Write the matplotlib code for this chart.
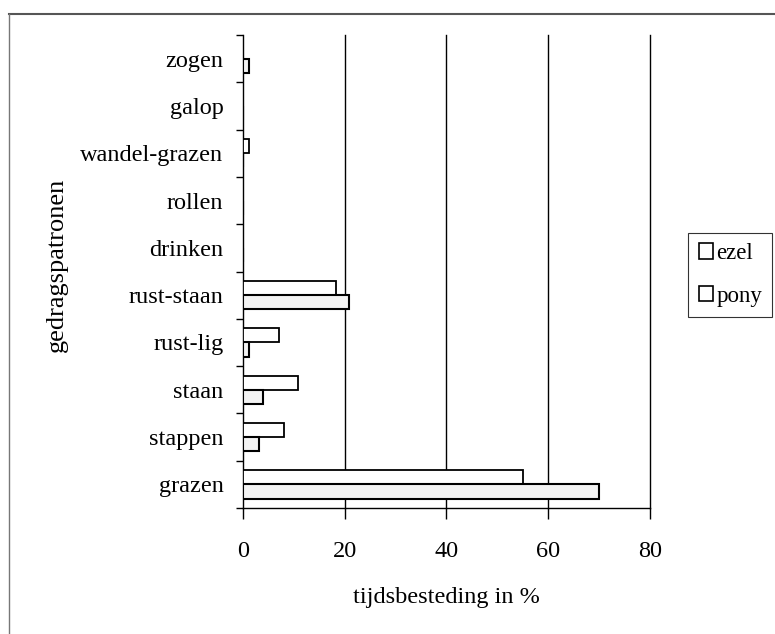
import numpy as np
import matplotlib.pyplot as plt
from matplotlib.lines import Line2D
from matplotlib.patches import Patch

categories = ["grazen", "stappen", "staan", "rust-lig", "rust-staan",
              "drinken", "rollen", "wandel-grazen", "galop", "zogen"]
ezel = [55, 8, 10.8, 7.1, 18.3, 0, 0, 1.1, 0, 0]
pony = [70, 3.1, 3.9, 1.2, 20.8, 0, 0, 0, 0, 1.2]
xticks = [0, 20, 40, 60, 80]

plt.rcParams['font.family'] = ['Liberation Serif', 'DejaVu Serif']
plt.rcParams['font.size'] = 17.5

fig = plt.figure(figsize=(7.75, 6.34), dpi=100)
ax = fig.add_axes([0.3135, 0.1987, 0.5252, 0.7461])

y = np.arange(len(categories))
h = 0.3
ax.barh(y + h / 2, ezel, height=h, color='white', edgecolor='black', linewidth=1.3, zorder=3)
ax.barh(y - h / 2, pony, height=h, color='#f3f3f3', edgecolor='black', linewidth=1.5, zorder=3)

ax.set_xlim(0, 80)
ax.set_ylim(-0.5, len(categories) - 0.5)
ax.set_xticks(xticks)
ax.set_xticklabels([str(v) for v in xticks])
ax.set_yticks(y)
ax.set_yticklabels(categories)
ax.set_yticks(np.arange(-0.5, len(categories), 1), minor=True)
ax.tick_params(axis='y', which='major', length=0, pad=14)
ax.tick_params(axis='y', which='minor', length=5, width=1, direction='out')
ax.tick_params(axis='x', length=8, width=1, direction='out', pad=16)

for v in xticks[1:]:
    ax.axvline(v, color='black', linewidth=1, zorder=1, clip_on=False)

for s in ['top', 'right']:
    ax.spines[s].set_visible(False)
ax.spines['left'].set_linewidth(1)
ax.spines['bottom'].set_linewidth(1)

ax.set_xlabel("tijdsbesteding in %", labelpad=18)
ax.set_ylabel("gedragspatronen", fontsize=19)
ax.yaxis.set_label_coords(-0.43, 0.514)

handles = [Patch(facecolor='white', edgecolor='black', linewidth=1.2, label='ezel'),
           Patch(facecolor='white', edgecolor='black', linewidth=1.2, label='pony')]
leg = fig.legend(handles=handles, loc='upper left', bbox_to_anchor=(0.888, 0.633),
                 frameon=True, fancybox=False, edgecolor='black', handlelength=0.65,
                 handleheight=0.65, handletextpad=0.12, borderpad=0.45, labelspacing=0.95,
                 borderaxespad=0, prop={'size': 16.5})
leg.get_frame().set_linewidth(0.8)

# page border
fig.add_artist(Line2D([0.011, 1.0], [0.978, 0.978], color='#555555', linewidth=1.5))
fig.add_artist(Line2D([0.011, 0.011], [0.0, 0.978], color='#777777', linewidth=1))

fig.savefig("out.png", dpi=100)
